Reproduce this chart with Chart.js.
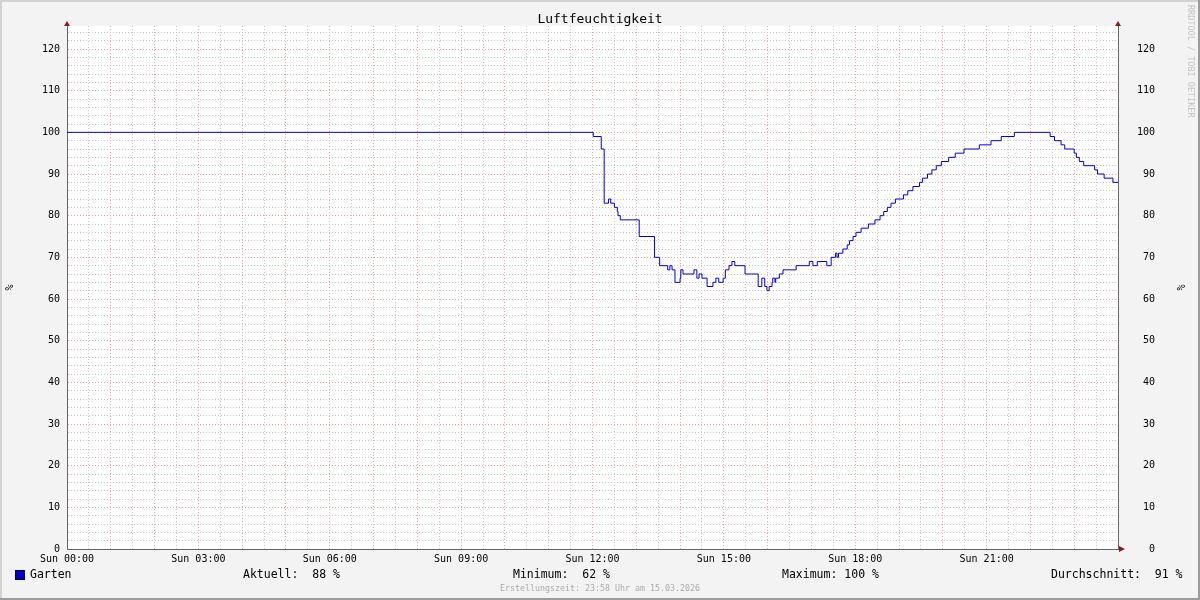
<!DOCTYPE html>
<html lang="de">
<head>
  <meta charset="UTF-8" />
  <title>Luftfeuchtigkeit</title>
  <script src="https://cdn.jsdelivr.net/npm/chart.js"></script>
  <style>
    html, body { margin: 0; padding: 0; background: #f3f3f3; }
    canvas { display: block; }
  </style>
</head>
<body>
  <canvas id="humChart" width="1200" height="600"></canvas>

  <script>
    // Zeitpunkte in Minuten seit Sun 00:00, Wert gilt ab diesem Zeitpunkt
    const times = [0, 721, 732, 736, 742, 745, 750, 754, 755, 758,
      784, 805, 812, 823, 826, 829, 833, 840, 841, 844,
      859, 863, 866, 870, 877, 885, 889, 893, 899, 902,
      907, 911, 915, 929, 947, 952, 956, 959, 962, 966,
      967, 970, 971, 976, 981, 999, 1017, 1022, 1028, 1041,
      1047, 1053, 1055, 1057, 1063, 1069, 1072, 1077, 1081, 1088,
      1098, 1107, 1114, 1119, 1124, 1129, 1135, 1146, 1152, 1159,
      1168, 1172, 1179, 1185, 1191, 1198, 1208, 1217, 1229, 1250,
      1266, 1280, 1298, 1347, 1353, 1362, 1367, 1380, 1383, 1387,
      1393, 1408, 1412, 1421, 1433, 1440];
    // Luftfeuchtigkeit Garten in %
    const humidity = [100, 99, 96, 83, 84, 83, 82, 81, 80, 79,
      75, 70, 68, 67, 68, 67, 64, 65, 67, 66,
      67, 65, 66, 65, 63, 64, 65, 64, 65, 67,
      68, 69, 68, 66, 63, 65, 63, 62, 63, 64,
      65, 64, 65, 66, 67, 68, 69, 68, 69, 68,
      70, 71, 70, 71, 72, 73, 74, 75, 76, 77,
      78, 79, 80, 81, 82, 83, 84, 85, 86, 87,
      88, 89, 90, 91, 92, 93, 94, 95, 96, 97,
      98, 99, 100, 99, 98, 97, 96, 95, 94, 93,
      92, 91, 90, 89, 88, 88];

    const xTickLabels = ['Sun 00:00', 'Sun 03:00', 'Sun 06:00', 'Sun 09:00',
      'Sun 12:00', 'Sun 15:00', 'Sun 18:00', 'Sun 21:00'];
    const yTickValues = [0, 10, 20, 30, 40, 50, 60, 70, 80, 90, 100, 110, 120];

    const seriesName = 'Garten';
    const statCurrent = 88, statMin = 62, statMax = 100, statAvg = 91;
    const createdText = 'Erstellungszeit: 23:58 Uhr am 15.03.2026';

    const MONO = "'DejaVu Sans Mono', monospace";
    const majorGrid = '#e6a6a6';
    const minorGrid = '#c6c6c6';

    function evenTicks(scale) {
      const t = [];
      for (let v = 0; v <= 124; v += 2) t.push({ value: v });
      scale.ticks = t;
    }
    function gridColor(ctx) {
      if (!ctx.tick) return minorGrid;
      return ctx.tick.value % 10 === 0 ? majorGrid : minorGrid;
    }
    function xGridColor(ctx) {
      if (!ctx.tick) return minorGrid;
      return ctx.tick.value % 60 === 0 ? majorGrid : minorGrid;
    }

    const rrdFrame = {
      id: 'rrdFrame',
      beforeDraw(chart) {
        const { ctx, chartArea: a } = chart;
        ctx.save();
        ctx.fillStyle = '#f3f3f3';
        ctx.fillRect(0, 0, 1200, 600);
        ctx.fillStyle = '#d2d2d2';
        ctx.fillRect(0, 0, 1200, 2);
        ctx.fillRect(0, 0, 2, 600);
        ctx.fillStyle = '#9c9c9c';
        ctx.fillRect(0, 598, 1200, 2);
        ctx.fillRect(1198, 0, 2, 600);
        ctx.fillStyle = '#ffffff';
        ctx.fillRect(a.left, a.top, a.right - a.left, a.bottom - a.top);
        ctx.restore();
      },
      afterDraw(chart) {
        const { ctx, chartArea: a } = chart;
        ctx.save();
        // Pfeile an den Achsen
        ctx.fillStyle = '#8b1c1c';
        [a.left, a.right].forEach(x => {
          ctx.beginPath();
          ctx.moveTo(x - 3, a.top);
          ctx.lineTo(x + 3, a.top);
          ctx.lineTo(x, a.top - 5);
          ctx.closePath();
          ctx.fill();
        });
        ctx.beginPath();
        ctx.moveTo(a.right + 1, a.bottom - 3);
        ctx.lineTo(a.right + 1, a.bottom + 3);
        ctx.lineTo(a.right + 7, a.bottom);
        ctx.closePath();
        ctx.fill();

        // Legende
        ctx.fillStyle = '#0000cc';
        ctx.fillRect(15, 570, 10, 10);
        ctx.strokeStyle = '#000033';
        ctx.lineWidth = 1;
        ctx.strokeRect(15.5, 570.5, 9, 9);
        ctx.fillStyle = '#000';
        ctx.font = '11.5px ' + MONO;
        ctx.textBaseline = 'middle';
        ctx.textAlign = 'left';
        ctx.fillText(seriesName, 30, 575.5);
        ctx.fillText('Aktuell:  ' + statCurrent + ' %', 243, 575.5);
        ctx.fillText('Minimum:  ' + statMin + ' %', 513, 575.5);
        ctx.fillText('Maximum: ' + statMax + ' %', 782, 575.5);
        ctx.fillText('Durchschnitt:  ' + statAvg + ' %', 1051, 575.5);

        ctx.fillStyle = '#ababab';
        ctx.font = '8.3px ' + MONO;
        ctx.textAlign = 'center';
        ctx.fillText(createdText, 600, 589);

        // Wasserzeichen rechts
        ctx.translate(1190, 5);
        ctx.rotate(Math.PI / 2);
        ctx.textAlign = 'left';
        ctx.fillStyle = '#c4c4c4';
        ctx.font = '8.5px ' + MONO;
        ctx.fillText('RRDTOOL / TOBI OETIKER', 0, 0);
        ctx.restore();
      }
    };

    const points = times.map((t, i) => ({ x: t, y: humidity[i] }));

    new Chart(document.getElementById('humChart'), {
      type: 'line',
      data: {
        datasets: [{
          label: seriesName,
          data: points,
          borderColor: '#0000dd',
          borderWidth: 1,
          pointRadius: 0,
          fill: false,
          stepped: 'before',
          tension: 0
        }]
      },
      options: {
        responsive: false,
        animation: false,
        devicePixelRatio: 1,
        layout: { padding: 0 },
        plugins: {
          legend: { display: false },
          tooltip: { enabled: false },
          title: {
            display: true,
            text: 'Luftfeuchtigkeit',
            color: '#000',
            font: { family: MONO, size: 13, weight: 'normal' },
            padding: { top: 12, bottom: -1.5 }
          }
        },
        scales: {
          x: {
            type: 'linear',
            min: 0,
            max: 1440,
            afterFit(s) { s.height = 51; },
            ticks: {
              stepSize: 30,
              autoSkip: false,
              maxRotation: 0,
              padding: 4,
              color: '#000',
              font: { family: MONO, size: 10 },
              callback: v => (v % 180 === 0 && v < 1440) ? xTickLabels[v / 180] : ''
            },
            grid: { color: xGridColor, lineWidth: 1, drawTicks: false, borderDash: [1, 2] },
            border: { color: '#666', width: 1, dash: [1, 2] }
          },
          y: {
            position: 'left',
            min: 0,
            max: 125.5,
            afterFit(s) { s.width = 67; },
            afterBuildTicks: evenTicks,
            title: {
              display: true,
              text: '%',
              color: '#000',
              font: { family: MONO, size: 10 },
              padding: { top: 4, bottom: 0 }
            },
            ticks: {
              autoSkip: false,
              padding: 7,
              color: '#000',
              font: { family: MONO, size: 10 },
              callback: v => yTickValues.includes(v) ? String(v) : ''
            },
            grid: { color: gridColor, lineWidth: 1, drawTicks: false, borderDash: [1, 2] },
            border: { color: '#666', width: 1, dash: [1, 2] }
          },
          y2: {
            position: 'right',
            min: 0,
            max: 125.5,
            afterFit(s) { s.width = 82; },
            afterBuildTicks: evenTicks,
            title: {
              display: true,
              text: '%',
              color: '#000',
              font: { family: MONO, size: 10 },
              padding: { top: 14, bottom: 0 }
            },
            ticks: {
              autoSkip: false,
              padding: 19,
              color: '#000',
              font: { family: MONO, size: 10 },
              callback: v => yTickValues.includes(v) ? String(v).padStart(3, ' ') : ''
            },
            grid: { display: false, drawTicks: false },
            border: { color: '#666', width: 1 }
          }
        }
      },
      plugins: [rrdFrame]
    });
  </script>
</body>
</html>
